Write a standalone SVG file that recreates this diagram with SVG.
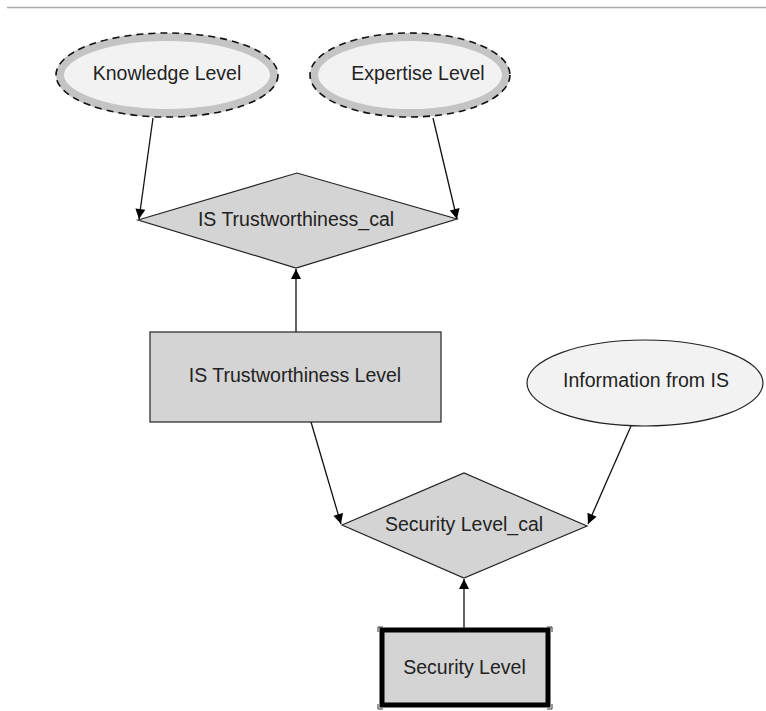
<svg xmlns="http://www.w3.org/2000/svg" width="766" height="711" viewBox="0 0 766 711">
<defs>
<marker id="ah" viewBox="0 0 10 10" refX="10" refY="5" markerWidth="13" markerHeight="10" markerUnits="userSpaceOnUse" orient="auto">
<path d="M0,0 L10,5 L0,10 z" fill="#000"/>
</marker>
</defs>
<style>
text{font-family:"Liberation Sans",Arial,sans-serif;font-size:19.5px;fill:#222;text-anchor:middle}
.band{fill:#f2f2f2;stroke:#c4c4c4;stroke-width:8}
.dash{fill:none;stroke:#111;stroke-width:1.6;stroke-dasharray:7,5}
.box{fill:#d4d4d4;stroke:#222;stroke-width:1.2}
.con{stroke:#111;stroke-width:1.3;fill:none;marker-end:url(#ah)}
</style>
<rect width="766" height="711" fill="#fff"/>
<line x1="7" y1="7.5" x2="766" y2="7.5" stroke="#aaa" stroke-width="1.5"/>
<g id="connectors">
<line class="con" x1="153" y1="118" x2="139" y2="219"/>
<line class="con" x1="433" y1="118" x2="457" y2="219"/>
<line class="con" x1="296" y1="332" x2="296" y2="269"/>
<line class="con" x1="311" y1="422" x2="341" y2="524"/>
<line class="con" x1="631" y1="426" x2="588" y2="524"/>
<line class="con" x1="464" y1="628" x2="464" y2="579"/>
</g>
<g id="knowledge">
<ellipse class="band" cx="167" cy="75" rx="107" ry="38"/>
<ellipse class="dash" cx="167" cy="75" rx="111" ry="42"/>
<text x="167" y="80">Knowledge Level</text>
</g>
<g id="expertise">
<ellipse class="band" cx="410" cy="75" rx="96" ry="38"/>
<ellipse class="dash" cx="410" cy="75" rx="100" ry="42"/>
<text x="418" y="80">Expertise Level</text>
</g>
<g id="is-cal">
<polygon class="box" points="138,220 297,173 457,219 296,268"/>
<text x="296" y="226">IS Trustworthiness_cal</text>
</g>
<g id="is-level">
<rect class="box" x="150" y="332" width="291" height="90"/>
<text x="295" y="382">IS Trustworthiness Level</text>
</g>
<g id="info">
<ellipse cx="645" cy="383" rx="118" ry="43" fill="#f2f2f2" stroke="#222" stroke-width="1.2"/>
<text x="646" y="387">Information from IS</text>
</g>
<g id="sec-cal">
<polygon class="box" points="342,525 464,473 587,526 464,578"/>
<text x="464" y="531">Security Level_cal</text>
</g>
<g id="sec-level">
<rect x="382" y="630" width="166" height="75" fill="#d4d4d4" stroke="#000" stroke-width="5"/>
<path d="M378,632 V627 H383 M547,627 H552 V632 M378,704 V709 H383 M547,709 H552 V704" fill="none" stroke="#333" stroke-width="1"/>
<text x="464.5" y="674">Security Level</text>
</g>
</svg>
